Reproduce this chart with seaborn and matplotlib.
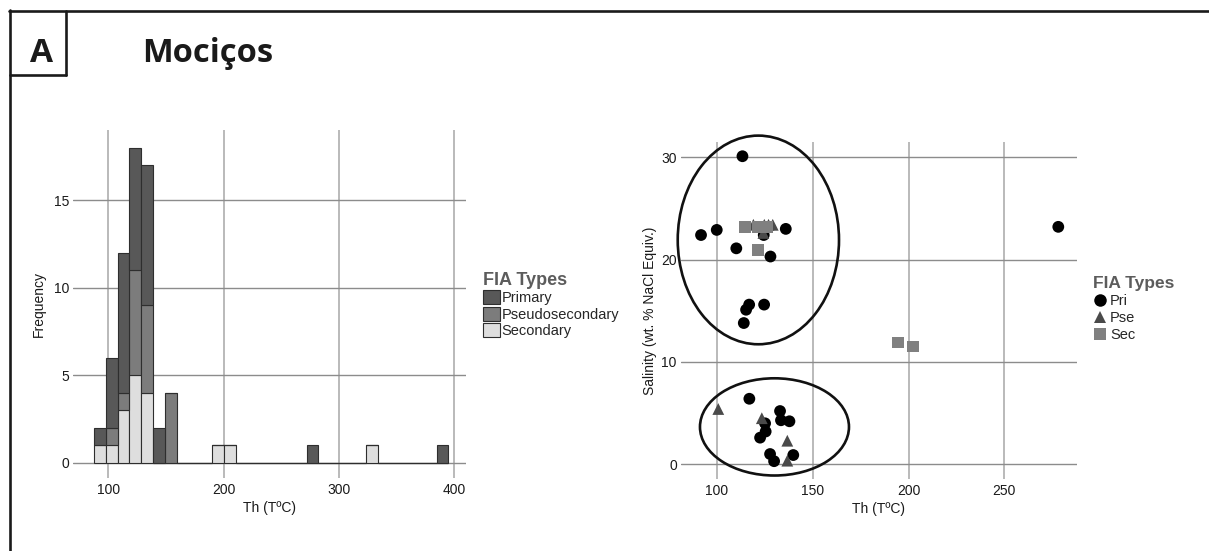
import numpy as np
import pandas as pd
import matplotlib
matplotlib.use("Agg")
import matplotlib.pyplot as plt
import seaborn as sns
from matplotlib.patches import Ellipse
from matplotlib.lines import Line2D

# ---------------- data ----------------
fia_types = ["Primary", "Pseudosecondary", "Secondary"]
bin_start = 87.5
bin_width = 10.25
n_bins = 30
primary_bins = [0, 1, 2, 3, 4, 5, 18, 29]
primary_counts = [1, 4, 8, 7, 8, 2, 1, 1]
pseudo_bins = [1, 2, 3, 4, 6]
pseudo_counts = [1, 1, 6, 5, 4]
secondary_bins = [0, 1, 2, 3, 4, 10, 11, 23]
secondary_counts = [1, 1, 3, 5, 4, 1, 1, 1]

scatter_types = ["Pri", "Pse", "Sec"]
pri_th = [113.4, 91.8, 100.0, 110.2, 128.0, 136.0, 124.5, 116.9, 115.3, 124.7, 114.1, 278.1,
          117.0, 133.0, 133.5, 137.9, 125.2, 125.5, 122.6, 127.8, 129.9, 139.9]
pri_sal = [30.1, 22.4, 22.9, 21.1, 20.3, 23.0, 22.4, 15.6, 15.1, 15.6, 13.8, 23.2,
           6.4, 5.2, 4.3, 4.2, 4.0, 3.2, 2.6, 1.0, 0.3, 0.9]
pse_th = [119.1, 124.8, 127.0, 129.2, 124.3, 100.8, 123.5, 136.8, 136.8]
pse_sal = [23.4, 23.4, 23.4, 23.4, 22.6, 5.4, 4.5, 2.3, 0.35]
sec_th = [114.9, 121.5, 126.5, 121.7, 194.7, 202.2]
sec_sal = [23.2, 23.2, 23.2, 20.9, 11.9, 11.5]

# ---------------- style ----------------
sns.set_theme(style="white")
plt.rcParams['font.family'] = ['Liberation Sans', 'DejaVu Sans']
title_family = ['Open Sans', 'DejaVu Sans']

W, H = 1209, 551
fig = plt.figure(figsize=(W / 100, H / 100), dpi=100)


def fx(px):
    return px / W


def fy(py):
    return 1 - py / H


ax1 = fig.add_axes([fx(73.3), fy(478), (466 - 73.3) / W, (478 - 130) / H])
ax2 = fig.add_axes([fx(680.7), fy(479.3), 396 / W, 337.6 / H])

# ---------------- histogram ----------------
rows = []
for t, bins, counts in [("Primary", primary_bins, primary_counts),
                        ("Pseudosecondary", pseudo_bins, pseudo_counts),
                        ("Secondary", secondary_bins, secondary_counts)]:
    for b, c in zip(bins, counts):
        rows.append({"th": bin_start + (b + 0.5) * bin_width, "count": c, "type": t})
hist_df = pd.DataFrame(rows)
hist_palette = {"Primary": "#585858", "Pseudosecondary": "#7c7c7c", "Secondary": "#dedede"}

sns.histplot(data=hist_df, x="th", weights="count", hue="type", hue_order=fia_types,
             multiple="stack", binwidth=bin_width,
             binrange=(bin_start, bin_start + n_bins * bin_width - 0.1),
             palette=hist_palette, alpha=1,
             edgecolor="#2e2e2e", linewidth=0.8, ax=ax1)

# ---------------- scatter ----------------
sc_df = pd.DataFrame({
    "th": pri_th + pse_th + sec_th,
    "sal": pri_sal + pse_sal + sec_sal,
    "type": ["Pri"] * len(pri_th) + ["Pse"] * len(pse_th) + ["Sec"] * len(sec_th),
})
sns.scatterplot(data=sc_df, x="th", y="sal", hue="type", style="type",
                hue_order=scatter_types, style_order=scatter_types,
                palette={"Pri": "#000000", "Pse": "#4a4a4a", "Sec": "#808080"},
                markers={"Pri": "o", "Pse": "^", "Sec": "s"},
                s=72, linewidth=0, alpha=1, ax=ax2)

ax2.add_patch(Ellipse((121.7, 21.92), 84.1, 20.39, fill=False, ec="#111111", lw=1.9, clip_on=False))
ax2.add_patch(Ellipse((130.1, 3.65), 77.7, 9.5, fill=False, ec="#111111", lw=1.9, clip_on=False))

# ---------------- axes formatting ----------------
for ax in (ax1, ax2):
    ax.set_axisbelow(True)
    for s in ax.spines.values():
        s.set_visible(False)
    ax.grid(False)
    ax.yaxis.grid(True, color="#8c8c8c", lw=1.0)
    ax.xaxis.grid(True, color="#b4b4b4", lw=1.3)
    ax.tick_params(length=0, labelsize=10, colors="#1a1a1a")
    ax.tick_params(axis="x", pad=3.6)
    ax.tick_params(axis="y", pad=2.8)
    ax.set_facecolor("none")

ax1.set_xlim(69.65, 410.1)
ax1.set_ylim(-0.88, 19.0)
ax1.set_xticks([100, 200, 300, 400])
ax1.set_yticks([0, 5, 10, 15])
ax1.set_xlabel("Th (TºC)", fontsize=10, labelpad=3, color="#1a1a1a")
ax1.set_ylabel("Frequency", fontsize=10, labelpad=6, color="#1a1a1a")

ax2.set_xlim(81.2, 287.7)
ax2.set_ylim(-1.47, 31.52)
ax2.set_xticks([100, 150, 200, 250])
ax2.set_yticks([0, 10, 20, 30])
ax2.set_xlabel("Th (TºC)", fontsize=10, labelpad=3, color="#1a1a1a")
ax2.set_ylabel("Salinity (wt. % NaCl Equiv.)", fontsize=10, labelpad=3, color="#1a1a1a")

# ---------------- legends ----------------
sns.move_legend(ax1, "upper left",
                bbox_to_anchor=((483.3 - 73.3) / 392.7, (478 - 272) / 348),
                title="FIA Types", frameon=False, fontsize=10.5,
                title_fontproperties={"weight": "bold", "size": 13},
                handlelength=1.15, handleheight=1.1, handletextpad=0.12,
                labelspacing=0.1, borderpad=0, borderaxespad=0, alignment="left")
leg1 = ax1.get_legend()
leg1.get_title().set_color("#5c5c5c")
for p in leg1.get_patches():
    p.set_edgecolor("#2e2e2e")
    p.set_linewidth(0.8)

sns.move_legend(ax2, "upper left",
                bbox_to_anchor=((1093.3 - 680.7) / 396, (479.3 - 276) / 337.6),
                title="FIA Types", frameon=False, fontsize=10.5,
                title_fontproperties={"weight": "bold", "size": 12.5},
                handlelength=0.9, handletextpad=0.25,
                labelspacing=0.2, borderpad=0, borderaxespad=0, alignment="left")
leg2 = ax2.get_legend()
leg2.get_title().set_color("#5c5c5c")
for h in leg2.legend_handles:
    h.set_markersize(9)

# ---------------- frame and titles ----------------
lc = "#1a1a1a"
flw = 1.9
fig.add_artist(Line2D([fx(9.5), fx(9.5)], [0, fy(10)], color=lc, lw=flw, transform=fig.transFigure))
fig.add_artist(Line2D([fx(8.6), 1], [fy(11), fy(11)], color=lc, lw=flw, transform=fig.transFigure))
fig.add_artist(Line2D([fx(65.5), fx(65.5)], [fy(11), fy(74.5)], color=lc, lw=flw, transform=fig.transFigure))
fig.add_artist(Line2D([fx(9.5), fx(66.3)], [fy(74.5), fy(74.5)], color=lc, lw=flw, transform=fig.transFigure))

fig.text(fx(30), fy(62), "A", fontsize=24, weight="bold", family=title_family,
         va="baseline", ha="left", color=lc)
fig.text(fx(141.7), fy(61.7), "Mociços", fontsize=23.5, weight="bold", family=title_family,
         va="baseline", ha="left", color=lc)

fig.savefig("out.png", dpi=100)
